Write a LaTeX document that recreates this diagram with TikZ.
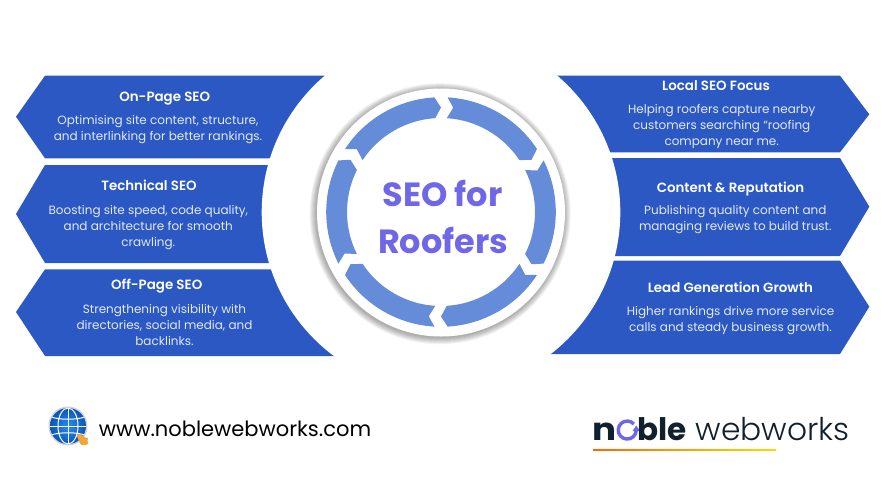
\documentclass[tikz,border=0pt]{standalone}
\usepackage{fontspec}
\setmainfont{Poppins}
\newfontfamily\headfont{Poppins SemiBold}
\newfontfamily\lightfont{Poppins Light}
\usetikzlibrary{calc,arrows.meta}
\definecolor{panelblue}{HTML}{2B58C2}
\definecolor{ringblue}{HTML}{648CD8}
\definecolor{bodytext}{HTML}{E3EAF9}
\definecolor{titlepurple}{HTML}{7067E6}
\definecolor{logodark}{HTML}{10202C}
\definecolor{globein}{HTML}{2B8CF0}
\definecolor{globeout}{HTML}{0B55B8}
\definecolor{blob}{HTML}{F2A53A}
\tikzset{
  panel/.style={fill=panelblue,draw=none},
  heading/.style={text=white,font=\headfont\fontsize{13.4}{16}\selectfont,inner sep=0pt,anchor=center},
  bodycopy/.style={text=bodytext,font=\fontsize{12}{16}\selectfont,align=center,inner sep=0pt,anchor=center},
  seotitle/.style={text=titlepurple,font=\bfseries\fontsize{33.5}{47}\selectfont,inner sep=0pt,anchor=center},
  ringseg/.style={fill=ringblue,draw=none},
  logobold/.style={text=logodark,font=\bfseries\fontsize{31}{36}\selectfont,inner sep=0pt,anchor=base west},
}
\begin{document}
\begin{tikzpicture}[x=1pt,y=1pt]
\useasboundingbox (0,0) rectangle (885,491);
\fill[white] (0,0) rectangle (885,491);
% left panels (y up: y = 491 - py)
\fill[panel] (45,415.3) -- (16,374.3) -- (45,332.7) -- (441,332.7) -- (441,415.3) -- cycle;
\fill[panel] (45,326) -- (16,277) -- (45,228) -- (441,228) -- (441,326) -- cycle;
\fill[panel] (45,221.7) -- (16,179) -- (45,135) -- (441,135) -- (441,221.7) -- cycle;
% right panels
\fill[panel] (441,415.3) -- (840,415.3) -- (869.3,376.7) -- (840,338.7) -- (441,338.7) -- cycle;
\fill[panel] (441,333) -- (840,333) -- (869.3,284.3) -- (840,235) -- (441,235) -- cycle;
\fill[panel] (441,230.3) -- (840,230.3) -- (869.3,184.3) -- (840,137) -- (441,137) -- cycle;
% white disc that cuts the panels' inner arcs
\fill[white] (441,278.8) circle[radius=179.3pt];
% soft shadow
\foreach \r in {124.5,125.5,...,130.5}{
  \fill[black,opacity=.05] (440.2,277.3) circle[radius=\r pt];
}
\node[circle,fill=white,minimum size=248pt,inner sep=0pt] (hub) at (441,278.5) {};
% ring of six arrows
\begin{scope}[shift={(441,279)}]
\foreach \a in {90,30,-30,-90,-150,150}{
  \fill[ringseg]
    ({\a+56.7}:114.8pt) arc[start angle={\a+56.7},end angle={\a+3.3},radius=114.8pt]
    -- (\a:104.5pt)
    -- ({\a+3.5}:94pt) arc[start angle={\a+3.5},end angle={\a+56.5},radius=94pt]
    -- ({\a+53.3}:105pt) -- cycle;
}
\end{scope}
\node[seotitle] (t1) at (442.7,297.6) {SEO for};
\node[seotitle] (t2) at (443.2,251) {Roofers};
% left texts
\node[heading] (h1) at (164.7,392.6) {\strut On-Page SEO};
\node[bodycopy] (b1) at (158,362) {\strut Optimising site content, structure,\\\strut and interlinking for better rankings.};
\node[heading] (h2) at (149,304) {\strut Technical SEO};
\node[bodycopy] (b2) at (148.3,264) {\strut Boosting site speed, code quality,\\and architecture for smooth\\\strut crawling.};
\node[heading] (h3) at (156.7,205) {\strut Off-Page SEO};
\node[bodycopy] (b3) at (164.5,165) {\strut Strengthening visibility with\\directories, social media, and\\\strut backlinks.};
% right texts
\node[heading] (h4) at (716,403.8) {\strut Local SEO Focus};
\node[bodycopy] (b4) at (721.7,365) {\strut Helping roofers capture nearby\\customers searching “roofing\\\strut company near me.};
\node[heading] (h5) at (730.5,301.6) {\strut Content \& Reputation};
\node[bodycopy] (b5) at (735.3,272) {\strut Publishing quality content and\\\strut managing reviews to build trust.};
\node[heading] (h6) at (730.3,201.6) {\strut Lead Generation Growth};
\node[bodycopy] (b6) at (730.5,171) {\strut Higher rankings drive more service\\\strut calls and steady business growth.};
% globe
\fill[gray!35] (68,65) circle[radius=19.5pt];
\shade[inner color=globein,outer color=globeout] (68,65) circle[radius=18pt];
\begin{scope}
\clip (68,65) circle[radius=18pt];
\draw[white,line width=1pt] (49,65) -- (87,65);
\draw[white,line width=1pt] (51,74) .. controls (60,71) and (76,71) .. (85,74);
\draw[white,line width=1pt] (51,56) .. controls (60,59) and (76,59) .. (85,56);
\draw[white,line width=1pt] (68,46) -- (68,84);
\draw[white,line width=1pt] (68,65) ellipse[x radius=10pt,y radius=18pt];
\end{scope}
\fill[blob,rounded corners=1pt] (76.5,56) -- (81,57.5) -- (82.5,55) -- (85,53.5) -- (88.5,53) -- (87,50) -- (89,47.5) -- (84,45.5) -- (80.5,46.5) -- (79,50) -- cycle;
\node[text=black,font=\fontsize{21}{24}\selectfont,inner sep=0pt] (url) at (235,62.3) {www.noblewebworks.com};
% logo
\node[logobold,xscale=1.15,transform shape] (lgn) at (592.5,51) {n};
\draw[titlepurple,line width=3.4pt] (636.2,60.5) arc[start angle=-3,end angle=-318,radius=9pt];
\fill[titlepurple] (632.5,60) -- (640,60) -- (636.2,65.5) -- cycle;
\node[logobold] (lgb) at (637,51) {ble};
\node[text=logodark,font=\lightfont\fontsize{31.3}{36}\selectfont,inner sep=0pt,anchor=base west] (lgw) at (695.5,51) {webworks};
\shade[left color=orange!80!red,right color=yellow!70!orange] (593,40.8) rectangle (776,42);
\end{tikzpicture}
\end{document}
